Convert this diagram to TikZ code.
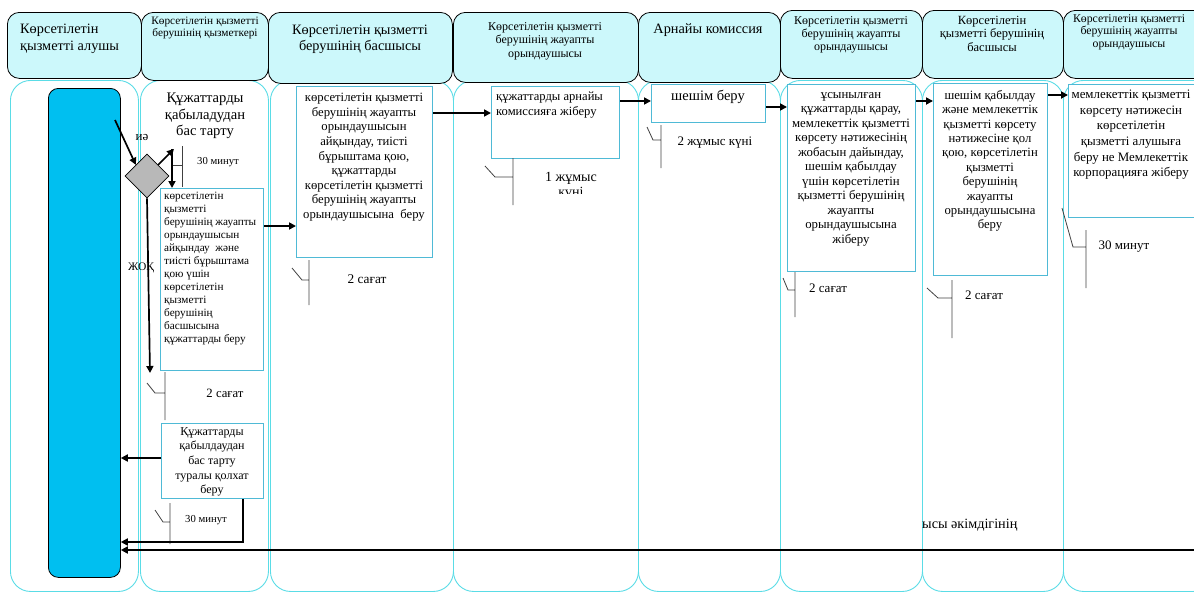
\documentclass[tikz,border=0pt]{standalone}
\usepackage{fontspec}
\setmainfont{Liberation Serif}
\usetikzlibrary{arrows.meta,shapes.geometric}
\definecolor{hdrfill}{HTML}{CCF8FB}
\definecolor{lanecol}{HTML}{5ADCE6}
\definecolor{boxcol}{HTML}{4FBAD6}
\definecolor{barcol}{HTML}{00BFF0}
\definecolor{dmcol}{HTML}{B8B8B8}
\newcommand{\fs}[2]{\fontsize{#1}{#2}\selectfont}
\tikzset{
  hdr/.style={draw=black, line width=0.8pt, fill=hdrfill, rounded corners=12pt, inner sep=0, anchor=north west},
  lane/.style={draw=lanecol, line width=0.9pt, rounded corners=20pt, inner sep=0, anchor=north west},
  stepbox/.style={draw=boxcol, line width=1pt, fill=white, inner sep=0, anchor=north west},
  txt/.style={inner sep=0, align=center, anchor=north},
  ltxt/.style={inner sep=0, align=left, anchor=north west},
  arr/.style={line width=1.7pt, -{Triangle[length=7pt,width=7pt]}},
  tickln/.style={line width=0.8pt, draw=black!75},
  lbl/.style={inner sep=0, anchor=base}
}
\begin{document}
\begin{tikzpicture}[x=1pt,y=-1pt]
\useasboundingbox (0,0) rectangle (1194,592);
% lanes
\node[lane, minimum width=128, minimum height=511] (l1) at (10,80) {};
\node[lane, minimum width=128, minimum height=511] (l2) at (140,80) {};
\node[lane, minimum width=183, minimum height=511] (l3) at (270,80) {};
\node[lane, minimum width=185, minimum height=511] (l4) at (453,80) {};
\node[lane, minimum width=142, minimum height=511] (l5) at (638,80) {};
\node[lane, minimum width=142, minimum height=511] (l6) at (780,80) {};
\node[lane, minimum width=141, minimum height=511] (l7) at (922,80) {};
\node[lane, minimum width=150, minimum height=511] (l8) at (1063,80) {};
% headers
\node[hdr, minimum width=134, minimum height=66] (h1) at (7,12) {};
\node[hdr, minimum width=127, minimum height=68] (h2) at (141,12) {};
\node[hdr, minimum width=184, minimum height=71] (h3) at (268,12) {};
\node[hdr, minimum width=185, minimum height=70] (h4) at (453,12) {};
\node[hdr, minimum width=142, minimum height=70] (h5) at (638,12) {};
\node[hdr, minimum width=142, minimum height=68] (h6) at (780,10) {};
\node[hdr, minimum width=141, minimum height=68] (h7) at (922,10) {};
\node[hdr, minimum width=150, minimum height=68] (h8) at (1063,10) {};
\node[ltxt, font=\fs{14.3}{17}] (t1) at (20,24) {Көрсетілетін\\қызметті алушы};
\node[txt, font=\fs{11.3}{12}] (t2) at (205,17) {Көрсетілетін қызметті\\берушінің қызметкері};
\node[txt, font=\fs{14.3}{16}] (t3) at (360,25) {Көрсетілетін қызметті\\берушінің басшысы};
\node[txt, font=\fs{12}{13.5}] (t4) at (545,22) {Көрсетілетін қызметті\\берушінің жауапты\\орындаушысы};
\node[txt, font=\fs{14.3}{16}] (t5) at (708,24) {Арнайы комиссия};
\node[txt, font=\fs{12}{13.3}] (t6) at (851,16) {Көрсетілетін қызметті\\берушінің жауапты\\орындаушысы};
\node[txt, font=\fs{12.5}{13.3}] (t7) at (992,16) {Көрсетілетін\\қызметті берушінің\\басшысы};
\node[txt, font=\fs{11.8}{12.8}] (t8) at (1129,14) {Көрсетілетін қызметті\\берушінің жауапты\\орындаушысы};
% blue bar and diamond
\node[draw=black, line width=0.8pt, fill=barcol, rounded corners=10pt, minimum width=72, minimum height=489, inner sep=0, anchor=north west] (bar) at (48,88) {};
\node[diamond, draw=black, line width=0.8pt, fill=dmcol, minimum width=44, minimum height=44, inner sep=0] (dm) at (147,176) {};
% step boxes
\node[stepbox, minimum width=103, minimum height=182] (b2) at (160,188) {};
\node[stepbox, minimum width=136, minimum height=171] (b3) at (296,86) {};
\node[stepbox, minimum width=128, minimum height=72] (b5) at (491,86) {};
\node[stepbox, minimum width=114, minimum height=38] (b6) at (651,84) {};
\node[stepbox, minimum width=128, minimum height=187] (b7) at (787,84) {};
\node[stepbox, minimum width=114, minimum height=192] (b8) at (933,83) {};
\node[stepbox, minimum width=130, minimum height=133] (b9) at (1068,84) {};
\node[stepbox, minimum width=102, minimum height=75] (b4) at (161,423) {};
% texts
\node[txt, font=\fs{14.6}{16.5}] (reftxt) at (205,93) {Құжаттарды\\қабыладудан\\бас тарту};
\node[ltxt, font=\fs{11.2}{13}] (x2) at (164,192) {көрсетілетін\\қызметті\\берушінің жауапты\\орындаушысын\\айқындау\ \ және\\тиісті бұрыштама\\қою үшін\\көрсетілетін\\қызметті\\берушінің\\басшысына\\құжаттарды беру};
\node[txt, font=\fs{12.7}{14.6}] (x3) at (364,93) {көрсетілетін қызметті\\берушінің жауапты\\орындаушысын\\айқындау, тиісті\\бұрыштама қою,\\құжаттарды\\көрсетілетін қызметті\\берушінің жауапты\\орындаушысына\ \ беру};
\node[ltxt, font=\fs{12.6}{14.5}] (x5) at (496,92) {құжаттарды арнайы\\комиссияға жіберу};
\node[txt, font=\fs{14.5}{15}] (x6) at (708,90) {шешім беру};
\node[txt, font=\fs{12.8}{14.5}] (x7) at (851,92) {ұсынылған\\құжаттарды қарау,\\мемлекеттік қызметті\\көрсету нәтижесінің\\жобасын дайындау,\\шешім қабылдау\\үшін көрсетілетін\\қызметті берушінің\\жауапты\\орындаушысына\\жіберу};
\node[txt, font=\fs{12.7}{14.4}] (x8) at (990,90) {шешім қабылдау\\және мемлекеттік\\қызметті көрсету\\нәтижесіне қол\\қою, көрсетілетін\\қызметті\\берушінің\\жауапты\\орындаушысына\\беру};
\node[txt, font=\fs{12.9}{15.6}] (x9) at (1131,90) {мемлекеттік қызметті\\көрсету нәтижесін\\көрсетілетін\\қызметті алушыға\\беру не Мемлекеттік\\корпорацияға жіберу};
\node[txt, font=\fs{12}{14.7}] (x4) at (212,427) {Құжаттарды\\қабылдаудан\\бас тарту\\туралы қолхат\\беру};
% labels
\node[lbl, font=\fs{13}{15}] (ie) at (142,140) {иә};
\node[lbl, font=\fs{11.5}{13}] (jok) at (141,270) {ЖОҚ};
\node[lbl, font=\fs{10.7}{12}] (m1) at (218,164) {30 минут};
\node[lbl, font=\fs{12.7}{14}] (m2) at (225,397) {2 сағат};
\node[lbl, font=\fs{10.7}{12}] (m3) at (206,522) {30 минут};
\node[lbl, font=\fs{13.3}{14}] (m4) at (367,283) {2 сағат};
\node[lbl, font=\fs{14}{14}] (m5) at (571,181) {1 жұмыс};
\begin{scope}
\clip (530,182) rectangle (620,193);
\node[lbl, font=\fs{14}{14}] (m5b) at (571,196) {күні};
\end{scope}
\node[lbl, font=\fs{13}{14}] (m6) at (715,145) {2 жұмыс күні};
\node[lbl, font=\fs{13}{14}] (m7) at (828,292) {2 сағат};
\node[lbl, font=\fs{13}{14}] (m8) at (984,299) {2 сағат};
\node[lbl, font=\fs{13}{14}] (m9) at (1124,249) {30 минут};
\node[inner sep=0, anchor=base west, font=\fs{14.2}{16}] (ak) at (922,528) {ысы әкімдігінің};
% time ticks
\draw[tickln] (182,146) -- (182,187) (172,165) -- (182,165);
\draw[tickln] (147,383) -- (155,393) -- (165,393) (165,372) -- (165,420);
\draw[tickln] (155,510) -- (163,522) -- (170,522) (170,503) -- (170,544);
\draw[tickln] (292,268) -- (302,280) -- (309,280) (309,260) -- (309,305);
\draw[tickln] (485,166) -- (495,177) -- (513,177) (513,158) -- (513,205);
\draw[tickln] (647,127) -- (653,140) -- (661,140) (661,125) -- (661,168);
\draw[tickln] (783,278) -- (788,290) -- (795,290) (795,272) -- (795,317);
\draw[tickln] (927,288) -- (938,298) -- (952,298) (952,280) -- (952,338);
\draw[tickln] (1062,208) -- (1073,247) -- (1086,247) (1086,230) -- (1086,288);
% connectors
\coordinate (ie1) at (115,120);
\coordinate (up1) at (174,149);
\coordinate (v1) at (172,149);
\coordinate (jokend) at (150,373);
\coordinate (rend) at (1194,550);
\draw[arr] (ie1) -- (dm.north west);
\draw[arr] (dm.north east) -- (up1);
\draw[arr] (v1) -- (v1 |- b2.north);
\draw[arr] (dm.south) -- (jokend);
\draw[arr] (b2.east |- 0,226) -- (b3.west |- 0,226);
\draw[arr] (b3.east |- 0,113) -- (b5.west |- 0,113);
\draw[arr] (b5.east |- 0,101) -- (b6.west |- 0,101);
\draw[arr] (b6.east |- 0,107) -- (b7.west |- 0,107);
\draw[arr] (b7.east |- 0,101) -- (b8.west |- 0,101);
\draw[arr] (b8.east |- 0,95) -- (b9.west |- 0,95);
\draw[arr] (b4.west |- 0,458) -- (bar.east |- 0,458);
\draw[arr] (b4.south -| 243,0) -- (243,542) -- (bar.east |- 0,542);
\draw[arr] (rend) -- (bar.east |- rend);
\end{tikzpicture}
\end{document}
